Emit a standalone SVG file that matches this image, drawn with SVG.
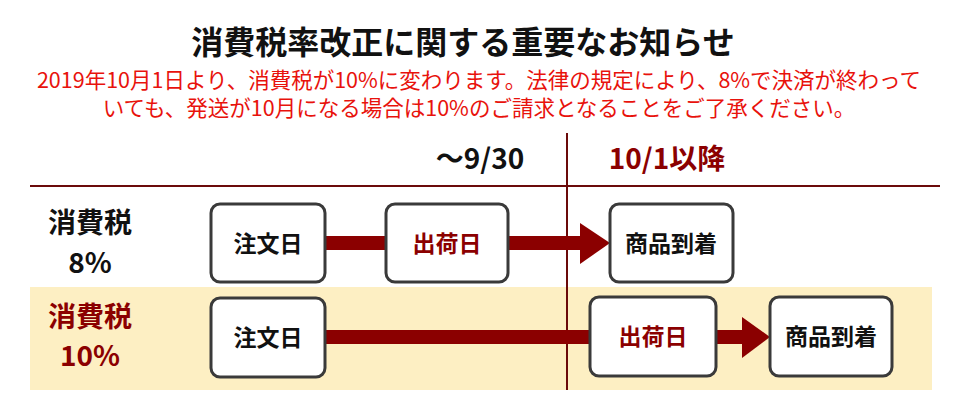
<svg xmlns="http://www.w3.org/2000/svg" width="966" height="401" viewBox="0 0 966 401">
<style>
text{font-family:"Noto Sans CJK JP","Noto Sans",sans-serif;font-weight:bold;text-anchor:middle}
.box{fill:#fff;stroke:#3a3a3a;stroke-width:3}
.t{font-size:23px;fill:#111}
.r{fill:#8b0000}
.sh{fill:#8b0000}
.n{font-size:21.5px;fill:#e8120c;font-weight:normal}
</style>
<rect width="966" height="401" fill="#fff"/>
<rect x="30" y="287" width="902" height="103" fill="#fdefc3"/>
<text x="463" y="54" font-size="32" fill="#111">消費税率改正に関する重要なお知らせ</text>
<text x="479" y="88" class="n">2019年10月1日より、消費税が10%に変わります。法律の規定により、8%で決済が終わって</text>
<text x="479" y="116" class="n">いても、発送が10月になる場合は10%のご請求となることをご了承ください。</text>
<text x="480" y="169" font-size="28" fill="#111">～9/30</text>
<text x="667" y="169" font-size="28" class="r">10/1以降</text>
<g id="connectors">
<line x1="30" y1="186" x2="940" y2="186" stroke="#6b0a0a" stroke-width="2"/>
<line x1="567" y1="133" x2="567" y2="390" stroke="#6b0a0a" stroke-width="2"/>
<rect x="325" y="236" width="255" height="14" class="sh"/>
<polygon points="580,223 610,243 580,264" class="sh"/>
<rect x="325" y="330" width="420" height="14" class="sh"/>
<polygon points="742,317 770,337 742,358" class="sh"/>
</g>
<g id="label8"><text x="90" y="233" font-size="28" fill="#111">消費税</text><text x="90" y="273" font-size="28" fill="#111">8%</text></g>
<g id="label10"><text x="90" y="327" font-size="28" class="r">消費税</text><text x="90" y="366" font-size="28" class="r">10%</text></g>
<g id="n1"><rect x="211" y="204" width="114" height="78" rx="9" class="box"/><text x="268" y="252" class="t">注文日</text></g>
<g id="n2"><rect x="386" y="204" width="122" height="78" rx="9" class="box"/><text x="447" y="252" class="t r">出荷日</text></g>
<g id="n3"><rect x="610" y="204" width="123" height="78" rx="9" class="box"/><text x="671" y="252" class="t">商品到着</text></g>
<g id="n4"><rect x="211" y="298" width="114" height="79" rx="9" class="box"/><text x="268" y="346" class="t">注文日</text></g>
<g id="n5"><rect x="590" y="297" width="126" height="79" rx="9" class="box"/><text x="653" y="345" class="t r">出荷日</text></g>
<g id="n6"><rect x="770" y="297" width="122" height="79" rx="9" class="box"/><text x="831" y="345" class="t">商品到着</text></g>
</svg>
